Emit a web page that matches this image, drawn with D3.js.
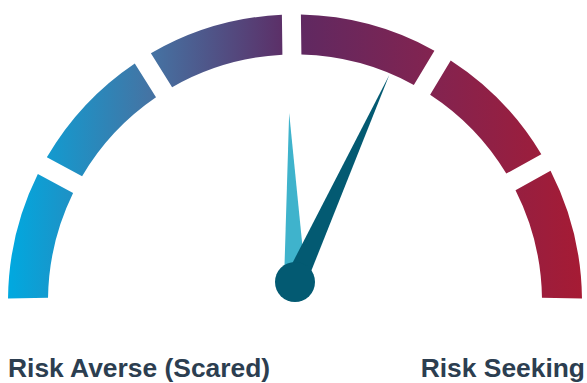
<!DOCTYPE html>
<html>
<head>
<meta charset="utf-8">
<script src="https://cdn.jsdelivr.net/npm/d3@7/dist/d3.min.js"></script>
<style>
  html, body { margin: 0; padding: 0; background: #ffffff; }
  svg { display: block; }
</style>
</head>
<body>
<svg id="chart" width="587" height="383"></svg>
<script>
// Gauge scale runs 0 (risk averse) .. 100 (risk seeking)
const bandBreaks = [0, 15.7, 32.2, 49.6, 67.2, 83.9, 100];
const needleNames = ["previous", "current"];
const needleValues = [48.9, 63.6];
const endLabels = ["Risk Averse (Scared)", "Risk Seeking"];
const gradientColors = ["#00a9e0", "#4573a3", "#5e2962", "#84234f", "#a61b34"];

const svg = d3.select("#chart");
const W = 587, H = 383;
const cx = 295, cy = 301.5;
const outerR = 287, innerR = 247;
const pivot = { x: 295, y: 282 };

// value -> angle (radians, 0 = straight up, clockwise positive)
const angle = d3.scaleLinear().domain([0, 100]).range([-Math.PI / 2, Math.PI / 2]);
const endOvershoot = 0.0228;

// horizontal colour ramp across the whole dial (in the dial group's coordinates)
const defs = svg.append("defs");
const grad = defs.append("linearGradient")
  .attr("id", "dialGrad")
  .attr("gradientUnits", "userSpaceOnUse")
  .attr("x1", -outerR).attr("x2", outerR)
  .attr("y1", 0).attr("y2", 0);
grad.selectAll("stop")
  .data(gradientColors)
  .join("stop")
  .attr("offset", (d, i) => i / (gradientColors.length - 1))
  .attr("stop-color", d => d);

const bands = d3.pairs(bandBreaks).map(([a, b], i, arr) => ({
  start: angle(a) - (i === 0 ? endOvershoot : 0),
  end: angle(b) + (i === arr.length - 1 ? endOvershoot : 0)
}));

const gapHalf = 9.5, padR = 267;
const arc = d3.arc()
  .innerRadius(innerR)
  .outerRadius(outerR)
  .padRadius(padR)
  .padAngle(2 * Math.asin(gapHalf / padR))
  .startAngle(d => d.start)
  .endAngle(d => d.end);

svg.append("g")
  .attr("transform", `translate(${cx},${cy})`)
  .selectAll("path")
  .data(bands)
  .join("path")
  .attr("d", arc)
  .attr("fill", "url(#dialGrad)");

// needles: tapered triangles pivoting on the hub
const needleStyle = {
  previous: { len: 169, base: 11, color: "#3fb3cc" },
  current: { len: 227.5, base: 11, color: "#035a72" }
};
const needleG = svg.append("g").attr("transform", `translate(${pivot.x},${pivot.y})`);
needleG.selectAll("path")
  .data(needleNames.map((n, i) => ({ name: n, value: needleValues[i] })))
  .join("path")
  .attr("d", d => {
    const s = needleStyle[d.name];
    return d3.line()([[-s.base, 0], [0, -s.len], [s.base, 0]]) + "Z";
  })
  .attr("transform", d => `rotate(${angle(d.value) * 180 / Math.PI})`)
  .attr("fill", d => needleStyle[d.name].color);

needleG.append("circle")
  .attr("r", 20)
  .attr("fill", "#035a72");

// end labels
svg.selectAll("text.end-label")
  .data(endLabels)
  .join("text")
  .attr("class", "end-label")
  .attr("x", (d, i) => i === 0 ? 8 : 585)
  .attr("y", 377)
  .attr("text-anchor", (d, i) => i === 0 ? "start" : "end")
  .attr("font-family", "'Liberation Sans', Arial, Helvetica, sans-serif")
  .attr("font-weight", "bold")
  .attr("font-size", 26.4)
  .attr("fill", "#2c3e50")
  .text(d => d);
</script>
</body>
</html>
